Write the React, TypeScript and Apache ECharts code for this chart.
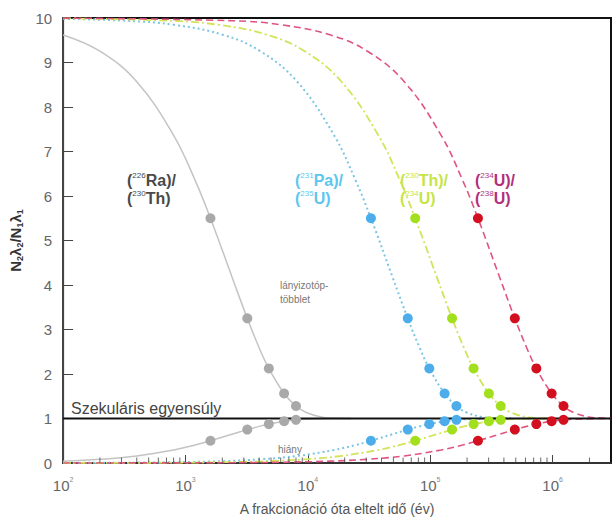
import React, { useEffect, useRef } from "react";
import * as echarts from "echarts";

// Years since fractionation (sample times) and activity ratios
const raTimes = [100, 200, 400, 800, 1200, 1600, 2400, 3200, 4000, 4800, 6400, 8000, 9600, 12800, 16000, 22400];
const raExcess = [9.618, 9.253, 8.568, 7.364, 6.351, 5.5, 4.182, 3.25, 2.591, 2.125, 1.563, 1.281, 1.141, 1.035, 1.009, 1.0005];
const raDeficit = [0.042, 0.083, 0.159, 0.293, 0.405, 0.5, 0.646, 0.75, 0.823, 0.875, 0.938, 0.969, 0.984, 0.996, 0.999, 1.0];

const paTimes = [100, 328, 819, 2048, 4095, 8190, 16380, 24570, 32760, 49140, 65520, 81900, 98280, 131040, 163800, 196560, 262080, 327600, 458640];
const thTimes = [100, 754, 1885, 4711, 9423, 18845, 37690, 56535, 75380, 113070, 150760, 188450, 226140, 301520, 376900, 452280, 603040, 753800, 1055320];
const uTimes = [100, 2455, 6138, 15344, 30688, 61375, 122750, 184125, 245500, 368250, 491000, 613750, 736500, 982000, 1227500, 1473000, 1964000, 2455000, 3000000];

const paExcess = [9.981, 9.938, 9.845, 9.618, 9.253, 8.568, 7.364, 6.351, 5.5, 4.182, 3.25, 2.591, 2.125, 1.563, 1.281, 1.141, 1.035, 1.009, 1.0005];
const paDeficit = [0.002, 0.007, 0.017, 0.042, 0.083, 0.159, 0.293, 0.405, 0.5, 0.646, 0.75, 0.823, 0.875, 0.938, 0.969, 0.984, 0.996, 0.999, 1.0];
const thExcess = [9.992, 9.938, 9.845, 9.618, 9.253, 8.568, 7.364, 6.351, 5.5, 4.182, 3.25, 2.591, 2.125, 1.563, 1.281, 1.141, 1.035, 1.009, 1.0005];
const thDeficit = [0.001, 0.007, 0.017, 0.042, 0.083, 0.159, 0.293, 0.405, 0.5, 0.646, 0.75, 0.823, 0.875, 0.938, 0.969, 0.984, 0.996, 0.999, 1.0];
const uExcess = [9.998, 9.938, 9.845, 9.618, 9.253, 8.568, 7.364, 6.351, 5.5, 4.182, 3.25, 2.591, 2.125, 1.563, 1.281, 1.141, 1.035, 1.009, 1.002];
const uDeficit = [0.0003, 0.007, 0.017, 0.042, 0.083, 0.159, 0.293, 0.405, 0.5, 0.646, 0.75, 0.823, 0.875, 0.938, 0.969, 0.984, 0.996, 0.999, 0.9998];

// Marked points (1..5 half-lives)
const raPointTimes = [1600, 3200, 4800, 6400, 8000];
const paPointTimes = [32760, 65520, 98280, 131040, 163800];
const thPointTimes = [75380, 150760, 226140, 301520, 376900];
const uPointTimes = [245500, 491000, 736500, 982000, 1227500];
const pointExcess = [5.5, 3.25, 2.125, 1.5625, 1.28];
const pointDeficit = [0.5, 0.75, 0.875, 0.94, 0.97];

const equilibriumTimes = [100, 3000000];
const equilibriumValue = [1, 1];

const minorTicks = [
  200, 300, 400, 500, 600, 700, 800, 900,
  2000, 3000, 4000, 5000, 6000, 7000, 8000, 9000,
  20000, 30000, 40000, 50000, 60000, 70000, 80000, 90000,
  200000, 300000, 400000, 500000, 600000, 700000, 800000, 900000,
  2000000,
];

const zip = (xs: number[], ys: number[]) => xs.map((x, i) => [x, ys[i]]);

const GRAY_LINE = "#c4c4c4";
const GRAY_DOT = "#a9a9a9";
const BLUE_LINE = "#7cc5e3";
const BLUE_DOT = "#4cadea";
const GREEN_LINE = "#d3e35a";
const GREEN_DOT = "#a2e01e";
const RED_LINE = "#e0557f";
const RED_DOT = "#d2101f";

function lineSeries(data: number[][], color: string, type: any, width: number) {
  return {
    type: "line",
    data,
    smooth: 0.4,
    showSymbol: false,
    symbol: "none",
    lineStyle: { color, width, type },
    z: 2,
    silent: true,
  };
}

function dotSeries(times: number[], color: string) {
  return {
    type: "scatter",
    data: [...zip(times, pointExcess), ...zip(times, pointDeficit)],
    symbol: "circle",
    symbolSize: 10,
    itemStyle: { color, opacity: 1 },
    z: 5,
    silent: true,
  };
}

const labelRich = { s: { fontSize: 8, verticalAlign: "top", lineHeight: 18, fontWeight: "normal" } };

function ratioLabel(left: number, text: string, fill: string) {
  return {
    type: "text",
    left,
    top: 171,
    style: {
      text,
      fill,
      fontSize: 16,
      fontWeight: "bold",
      fontFamily: "Liberation Sans, Arial, sans-serif",
      lineHeight: 18,
      rich: labelRich,
    },
  };
}

export default function App() {
  const ref = useRef<HTMLDivElement>(null);
  useEffect(() => {
    if (!ref.current) return;
    const chart = echarts.init(ref.current, undefined, { renderer: "svg" });
    chart.setOption({
      animation: false,
      backgroundColor: "#ffffff",
      textStyle: { fontFamily: "Liberation Sans, Arial, sans-serif" },
      grid: {
        left: 56,
        right: 2,
        top: 18,
        bottom: 51,
        show: true,
        borderColor: "#111",
        borderWidth: 2,
        backgroundColor: "transparent",
      },
      xAxis: {
        type: "log",
        logBase: 10,
        min: 100,
        max: 3000000,
        name: "A frakcionáció óta eltelt idő (év)",
        nameLocation: "middle",
        nameGap: 39,
        nameTextStyle: { fontSize: 14, color: "#555" },
        axisLine: { show: true, onZero: false, lineStyle: { color: "#333", width: 2 } },
        axisTick: { show: true, inside: true, length: 8, lineStyle: { color: "#444", width: 1 } },
        splitLine: { show: false },
        axisLabel: {
          color: "#666",
          margin: 13,
          showMaxLabel: false,
          formatter: (v: number) => {
            const e = Math.round(Math.log10(v));
            return `{b|10}{s|${e}}`;
          },
          rich: {
            b: { fontSize: 15, color: "#666", lineHeight: 18 },
            s: { fontSize: 7, color: "#888", verticalAlign: "top", lineHeight: 18 },
          },
        },
      },
      yAxis: {
        type: "value",
        min: 0,
        max: 10,
        interval: 1,
        name: "{n|N}{sub|2}{n|λ}{sub|2}{n|/N}{sub|1}{n|λ}{sub|1}",
        nameLocation: "middle",
        nameRotate: 90,
        nameGap: 36,
        nameTextStyle: {
          rich: {
            n: { fontSize: 15, fontWeight: "bold", color: "#333", lineHeight: 18 },
            sub: { fontSize: 9, fontWeight: "bold", color: "#333", verticalAlign: "bottom", lineHeight: 18 },
          },
        },
        axisLine: { show: true, lineStyle: { color: "#444", width: 2 } },
        axisTick: { show: true, inside: true, length: 10, lineStyle: { color: "#444", width: 1 } },
        splitLine: { show: false },
        axisLabel: { color: "#666", fontSize: 15, margin: 11 },
      },
      graphic: [
        ratioLabel(127, "({s|226}Ra)/\n({s|230}Th)", "#4a4a4a"),
        ratioLabel(295, "({s|231}Pa)/\n({s|235}U)", "#5ec6ee"),
        ratioLabel(400, "({s|230}Th)/\n({s|234}U)", "#c6e448"),
        ratioLabel(475, "({s|234}U)/\n({s|238}U)", "#b2307a"),
        {
          type: "text",
          left: 71,
          top: 400,
          style: { text: "Szekuláris egyensúly", fill: "#444", fontSize: 16, fontFamily: "Liberation Sans, Arial, sans-serif" },
        },
        {
          type: "text",
          left: 280,
          top: 278,
          style: {
            text: "lányizotóp-\ntöbblet",
            fill: "#777",
            fontSize: 10,
            lineHeight: 14,
            align: "center",
            fontFamily: "Liberation Sans, Arial, sans-serif",
          },
        },
        {
          type: "text",
          left: 278,
          top: 444,
          style: { text: "hiány", fill: "#777", fontSize: 10, fontFamily: "Liberation Sans, Arial, sans-serif" },
        },
      ],
      series: [
        lineSeries(zip(raTimes, raExcess), GRAY_LINE, "solid", 1.5),
        lineSeries(zip(raTimes, raDeficit), GRAY_LINE, "solid", 1.5),
        lineSeries(zip(paTimes, paExcess), BLUE_LINE, [2, 3], 2),
        lineSeries(zip(paTimes, paDeficit), BLUE_LINE, [2, 3], 2),
        lineSeries(zip(thTimes, thExcess), GREEN_LINE, [8, 3, 2, 3], 1.8),
        lineSeries(zip(thTimes, thDeficit), GREEN_LINE, [8, 3, 2, 3], 1.8),
        lineSeries(zip(uTimes, uExcess), RED_LINE, [7, 4], 1.6),
        lineSeries(zip(uTimes, uDeficit), RED_LINE, [7, 4], 1.6),
        {
          type: "line",
          data: zip(equilibriumTimes, equilibriumValue),
          showSymbol: false,
          symbol: "none",
          lineStyle: { color: "#111", width: 2 },
          z: 3,
          silent: true,
        },
        dotSeries(raPointTimes, GRAY_DOT),
        dotSeries(paPointTimes, BLUE_DOT),
        dotSeries(thPointTimes, GREEN_DOT),
        dotSeries(uPointTimes, RED_DOT),
        {
          type: "scatter",
          data: minorTicks.map((t) => [t, 0]),
          symbol: "rect",
          symbolSize: [1, 5],
          symbolOffset: [0, -3],
          itemStyle: { color: "#444" },
          z: 4,
          silent: true,
        },
      ],
    });
    return () => chart.dispose();
  }, []);
  return (
    <div
      ref={ref}
      style={{ position: "fixed", left: 0, top: 0, width: 613, height: 521, background: "#fff" }}
    />
  );
}
